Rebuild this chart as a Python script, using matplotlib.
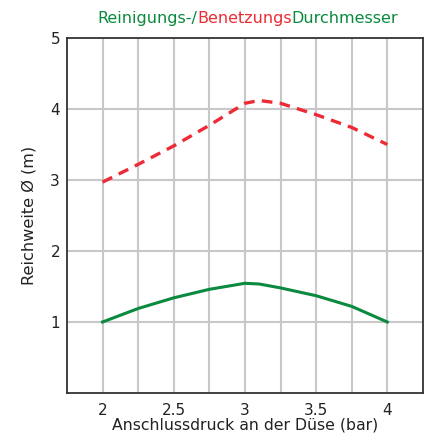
import matplotlib.pyplot as plt
from matplotlib.offsetbox import TextArea, HPacker, AnchoredOffsetbox

# Daten
druck = [2.0, 2.25, 2.5, 2.75, 3.0, 3.1, 3.25, 3.5, 3.75, 4.0]
benetzung = [2.97, 3.22, 3.48, 3.77, 4.08, 4.12, 4.08, 3.92, 3.74, 3.50]
reinigung = [1.0, 1.19, 1.34, 1.46, 1.545, 1.535, 1.48, 1.37, 1.22, 1.0]
x_ticks = [2, 2.5, 3, 3.5, 4]
x_tick_labels = ['2', '2.5', '3', '3.5', '4']
y_ticks = [1, 2, 3, 4, 5]

green = '#0a8a3e'
red = '#ee2a34'

plt.rcParams['font.family'] = ['DejaVu Sans']

fig = plt.figure(figsize=(4.28, 4.34), dpi=100)
ax = fig.add_axes([0.1565, 0.0945, 0.8315, 0.818])

# Gitter alle 0.25 bar
for xv in [2.0, 2.25, 2.5, 2.75, 3.0, 3.25, 3.5, 3.75, 4.0]:
    ax.axvline(xv, color='#c8c8c8', lw=1.5, zorder=0)
for yv in [1, 2, 3, 4]:
    ax.axhline(yv, color='#c8c8c8', lw=1.5, zorder=0)

ax.plot(druck, benetzung, color=red, lw=2.4, ls=(0, (3.2, 2.2)), zorder=3)
ax.plot(druck, reinigung, color=green, lw=2.2, zorder=3)

ax.set_xlim(1.75, 4.25)
ax.set_ylim(0, 5)
ax.set_xticks(x_ticks)
ax.set_xticklabels(x_tick_labels)
ax.set_yticks(y_ticks)
ax.tick_params(length=0, labelsize=11, colors='#222222')
ax.tick_params(axis='x', pad=7)
ax.tick_params(axis='y', pad=5)
for s in ax.spines.values():
    s.set_color('#333333')
    s.set_linewidth(1.3)

ax.set_xlabel('Anschlussdruck an der Düse (bar)', fontsize=11.3, color='#222222', labelpad=0)
ax.set_ylabel('Reichweite Ø (m)', fontsize=11.6, color='#222222', labelpad=10)

# mehrfarbiger Titel
parts = [('Reinigungs-/', green), ('Benetzungs', red), ('Durchmesser', green)]
boxes = [TextArea(t, textprops=dict(color=c, fontsize=11.5, family='DejaVu Sans')) for t, c in parts]
pack = HPacker(children=boxes, align='baseline', pad=0, sep=0)
title = AnchoredOffsetbox(loc='center', child=pack, frameon=False,
                          bbox_to_anchor=(0.579, 0.958), bbox_transform=fig.transFigure,
                          borderpad=0, pad=0)
fig.add_artist(title)

plt.savefig('out.png', dpi=100)
